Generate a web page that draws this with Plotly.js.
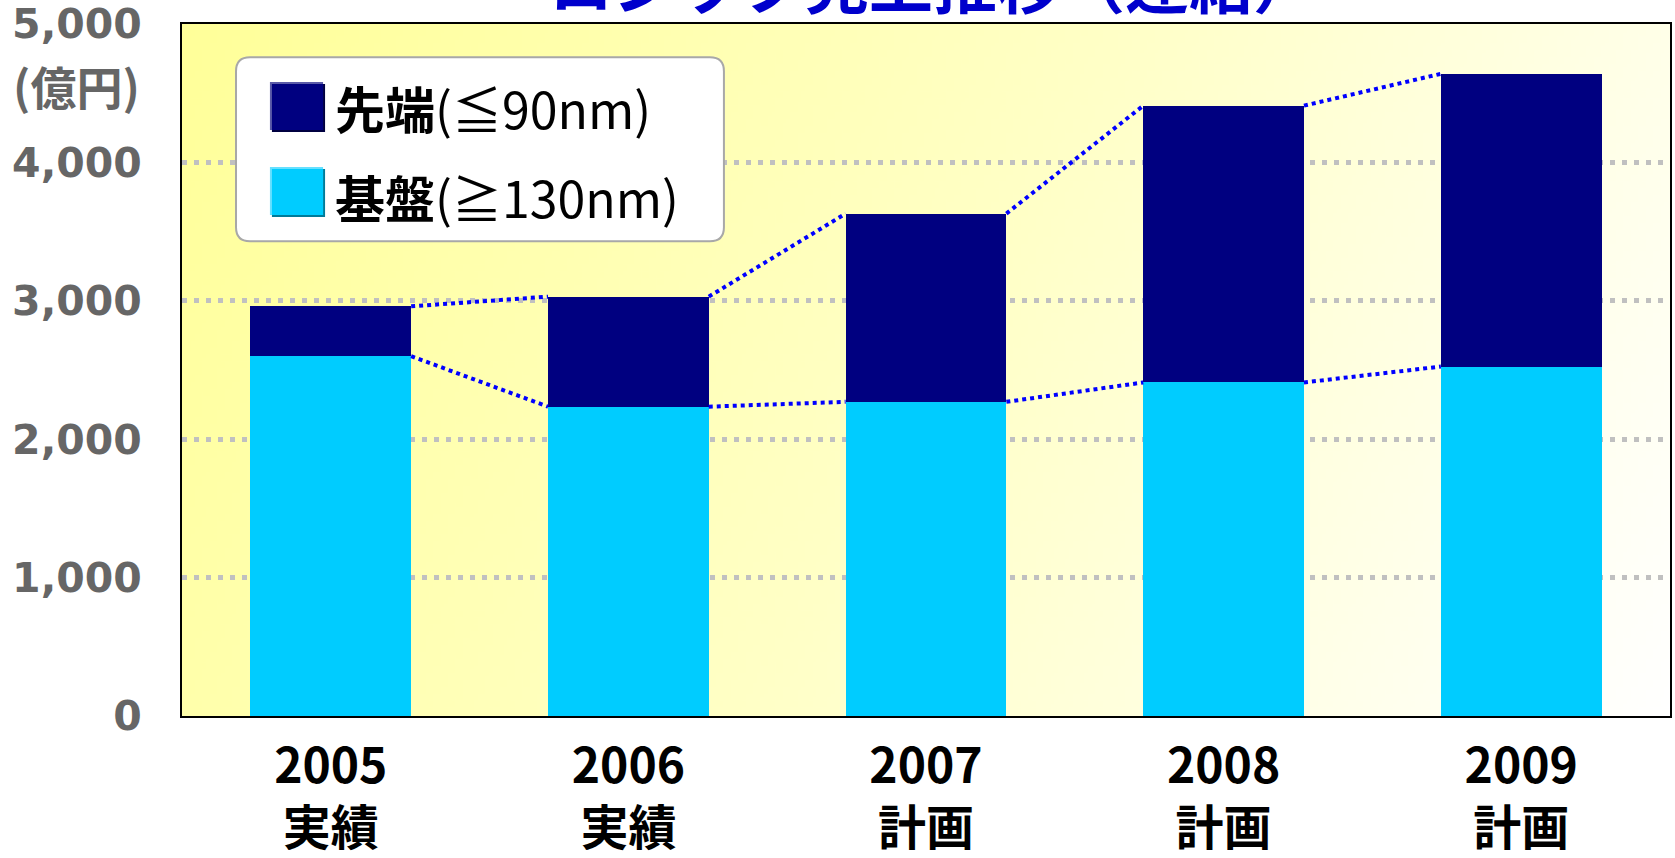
<!DOCTYPE html>
<html><head><meta charset="utf-8">
<script src="https://cdn.plot.ly/plotly-3.0.1.min.js"></script>
<style>html,body{margin:0;padding:0;background:#fff}#chart{width:1675px;height:858px}</style>
</head><body><div id="chart"></div>
<script>
// ---- data ----
const years = ['2005', '2006', '2007', '2008', '2009'];
const kinds = ['実績', '実績', '計画', '計画', '計画'];
const basic = [2600, 2235, 2270, 2410, 2525];      // 基盤(≧130nm)
const advanced = [360, 795, 1360, 2000, 2115];     // 先端(≦90nm)
const yTicks = [0, 1000, 2000, 3000, 4000, 5000];
const seriesNames = ['先端(≦90nm)', '基盤(≧130nm)'];
const titleText = 'ロジック売上推移（連結）';
const unitText = '(億円)';

// ---- derived ----
const xs = years.map((_, i) => i);
const tickText = years.map((y, i) => y + '<br>' + kinds[i]);
const totals = basic.map((b, i) => b + advanced[i]);
const BW = 0.54;

function connector(vals) {
  const x = [], y = [];
  for (let i = 0; i < vals.length - 1; i++) {
    x.push(xs[i] + BW / 2, xs[i + 1] - BW / 2, null);
    y.push(vals[i], vals[i + 1], null);
  }
  return { x, y };
}
const upper = connector(totals);
const lower = connector(basic);

// gradient background image
const cv = document.createElement('canvas');
cv.width = 400; cv.height = 200;
const cx = cv.getContext('2d');
const g = cx.createLinearGradient(0, 0, 400, 200);
g.addColorStop(0, '#FFFF99');
g.addColorStop(0.5, '#FFFFC6');
g.addColorStop(1, '#FFFFFF');
cx.fillStyle = g; cx.fillRect(0, 0, 400, 200);
const bgURL = cv.toDataURL('image/png');

const traces = [
  { type: 'bar', x: xs, y: basic, width: BW, name: seriesNames[1],
    marker: { color: '#00CCFF', line: { width: 0 } }, hoverinfo: 'y' },
  { type: 'bar', x: xs, y: advanced, width: BW, name: seriesNames[0],
    marker: { color: '#000080', line: { width: 0 } }, hoverinfo: 'y' },
  { type: 'scatter', mode: 'lines', x: upper.x, y: upper.y, connectgaps: false,
    line: { color: '#0000FF', width: 4, dash: '4px,4px' }, hoverinfo: 'skip' },
  { type: 'scatter', mode: 'lines', x: lower.x, y: lower.y, connectgaps: false,
    line: { color: '#0000FF', width: 4, dash: '4px,4px' }, hoverinfo: 'skip' }
];

// legend box geometry (paper coords)
const lx0 = 0.0363, lx1 = 0.3642, ly0 = 0.686, ly1 = 0.952;
const rx = 14 / 1488, ry = 14 / 692;
const boxPath = `M ${lx0 + rx},${ly1} L ${lx1 - rx},${ly1} Q ${lx1},${ly1} ${lx1},${ly1 - ry} ` +
  `L ${lx1},${ly0 + ry} Q ${lx1},${ly0} ${lx1 - rx},${ly0} L ${lx0 + rx},${ly0} ` +
  `Q ${lx0},${ly0} ${lx0},${ly0 + ry} L ${lx0},${ly1 - ry} Q ${lx0},${ly1} ${lx0 + rx},${ly1} Z`;

const sw = [
  { y0: 0.8468, y1: 0.9162, c: '#000080', sh: '#000040', hl: '#5A5AA8' },
  { y0: 0.7240, y1: 0.7934, c: '#00CCFF', sh: '#007B99', hl: '#66E0FF' }
];
const shapes = [
  { type: 'path', xref: 'paper', yref: 'paper', path: boxPath,
    fillcolor: '#FFFFFF', line: { color: '#A8A8A8', width: 2 }, layer: 'above' }
];
sw.forEach(s => {
  shapes.push({ type: 'rect', xref: 'paper', yref: 'paper', x0: 0.0591 + 2 / 1488, x1: 0.0948 + 2 / 1488,
    y0: s.y0 - 2 / 692, y1: s.y1 - 2 / 692, fillcolor: s.sh, line: { width: 0 }, layer: 'above' });
  shapes.push({ type: 'rect', xref: 'paper', yref: 'paper', x0: 0.0591, x1: 0.0948,
    y0: s.y0, y1: s.y1, fillcolor: s.hl, line: { width: 0 }, layer: 'above' });
  shapes.push({ type: 'rect', xref: 'paper', yref: 'paper', x0: 0.0591 + 2 / 1488, x1: 0.0948,
    y0: s.y0, y1: s.y1 - 2 / 692, fillcolor: s.c, line: { width: 0 }, layer: 'above' });
});

const cjk = '"Noto Sans CJK JP", "Noto Sans", sans-serif';
const annotations = [
  { xref: 'paper', yref: 'paper', x: 0.1015, y: 0.880, xanchor: 'left', yanchor: 'middle', showarrow: false,
    text: '<b>先端</b>(≦90nm)', font: { family: cjk, size: 50, color: '#000' } },
  { xref: 'paper', yref: 'paper', x: 0.1015, y: 0.7514, xanchor: 'left', yanchor: 'middle', showarrow: false,
    text: '<b>基盤</b>(≧130nm)', font: { family: cjk, size: 50, color: '#000' } },
  { xref: 'paper', yref: 'paper', x: -0.0712, y: 0.912, xanchor: 'center', yanchor: 'middle', showarrow: false,
    text: unitText, font: { family: cjk, size: 46, color: '#666666', weight: 'bold' } },
  { xref: 'paper', yref: 'paper', x: 0.505, y: 1, xanchor: 'center', yanchor: 'bottom', yshift: -4, showarrow: false,
    text: titleText, font: { family: cjk, size: 64, color: '#0000CC', weight: 'bold' } }
];

const layout = {
  width: 1675, height: 858,
  margin: { l: 182, r: 5, t: 24, b: 142 },
  paper_bgcolor: '#FFFFFF',
  plot_bgcolor: 'rgba(0,0,0,0)',
  barmode: 'stack',
  showlegend: false,
  images: [{ source: bgURL, xref: 'paper', yref: 'paper', x: 0, y: 1, sizex: 1, sizey: 1,
    sizing: 'stretch', xanchor: 'left', yanchor: 'top', layer: 'below' }],
  xaxis: {
    range: [-0.5, 4.5], tickvals: xs, ticktext: tickText,
    showgrid: false, zeroline: false, ticks: '',
    showline: true, linecolor: '#000', linewidth: 2, mirror: true,
    ticklabelstandoff: 7,
    tickfont: { family: cjk, size: 48, color: '#000', weight: 'bold' }
  },
  yaxis: {
    range: [0, 5000], tickvals: yTicks, tickformat: ',d',
    showgrid: true, gridcolor: '#C0C0C0', gridwidth: 5, griddash: '5px,7px',
    zeroline: false, ticks: '',
    showline: true, linecolor: '#000', linewidth: 2, mirror: true,
    ticklabelstandoff: 30,
    tickfont: { family: '"DejaVu Sans", sans-serif', size: 41, color: '#666666', weight: 'bold' }
  },
  shapes, annotations
};

Plotly.newPlot('chart', traces, layout, { displayModeBar: false, staticPlot: true });
</script>
</body></html>
